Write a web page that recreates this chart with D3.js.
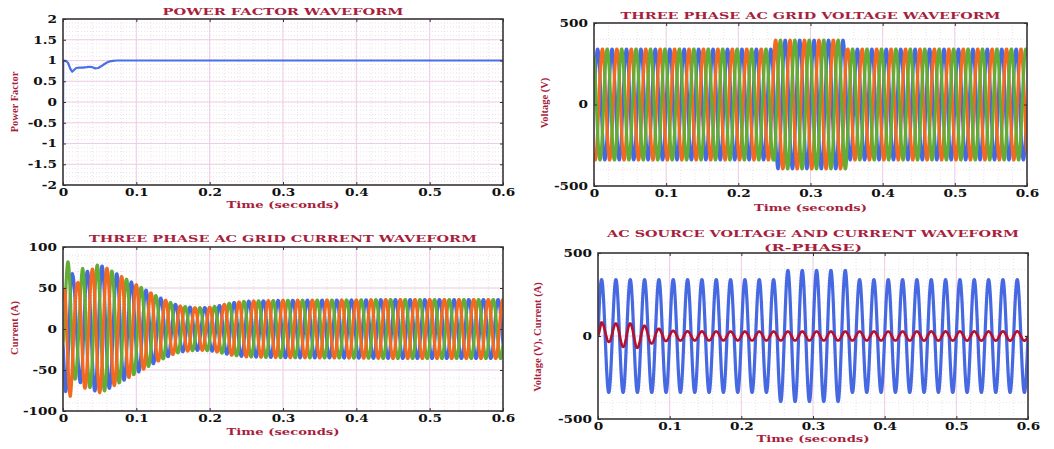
<!DOCTYPE html>
<html><head><meta charset="utf-8">
<script src="https://cdn.jsdelivr.net/npm/d3@7"></script>
<style>
body{margin:0;background:#fff;}
svg{display:block;}
.tk text{font-family:"DejaVu Serif";font-weight:bold;font-size:10.5px;fill:#111;transform-box:fill-box;}
.xa .tick text{transform-origin:center;transform:scaleX(1.3);}
.ya .tick text{transform-origin:right center;transform:scaleX(1.3);}
.tk path.domain{display:none;}
.tk .tick line{stroke:#333;}
</style></head><body>
<svg id="c" width="1054" height="449"></svg>
<script>
// ---------- data ----------
const timeTicks = [0, 0.1, 0.2, 0.3, 0.4, 0.5, 0.6];
const pfTicks = [2, 1.5, 1, 0.5, 0, -0.5, -1, -1.5, -2];
const gridVoltTicks = [500, 0, -500];
const gridCurrTicks = [100, 50, 0, -50, -100];
const srcTicks = [500, 0, -500];
const gridFrequencyHz = 50;

// power factor trace
const pfTime  = [0, 0.0003, 0.004, 0.007, 0.010, 0.0125, 0.015, 0.018, 0.022, 0.027, 0.032, 0.036, 0.040, 0.044, 0.048, 0.052, 0.056, 0.060, 0.064, 0.068, 0.073, 0.6];
const pfValue = [-1, 1, 0.99, 0.94, 0.80, 0.73, 0.77, 0.82, 0.83, 0.83, 0.84, 0.85, 0.84, 0.81, 0.82, 0.86, 0.91, 0.95, 0.98, 0.99, 1, 1];

// three phase grid voltage: amplitude envelope (V)
const gridVoltEnvTime = [0, 0.25, 0.25, 0.35, 0.35, 0.6];
const gridVoltEnvAmp  = [340, 340, 395, 395, 340, 340];
const gridVoltPhaseDeg = [0, -120, 120];        // blue, orange, green

// three phase grid current: amplitude envelope (A)
const gridCurrEnvTime = [0, 0.0033, 0.0067, 0.010, 0.0133, 0.020, 0.0267, 0.034, 0.040, 0.047, 0.053, 0.060, 0.070, 0.080, 0.090, 0.100, 0.110, 0.120, 0.130, 0.140, 0.150, 0.160, 0.170, 0.180, 0.190, 0.200, 0.210, 0.220, 0.230, 0.250, 0.300, 0.400, 0.450, 0.600];
const gridCurrEnvAmp  = [35, 76, 82, 82, 66, 56, 74, 70, 73, 78, 77, 74, 69, 64, 59, 54, 49, 44, 39, 35, 31, 28, 27, 26, 26, 26.5, 28, 30, 32, 34, 35, 35.5, 36, 36];
const gridCurrPhaseDeg = [-150, -30, 90];        // blue, green, orange

// AC source (R-phase) voltage envelope (V)
const srcVoltEnvTime = [0, 0.25, 0.25, 0.35, 0.35, 0.6];
const srcVoltEnvAmp  = [340, 340, 395, 395, 340, 340];

// AC source (R-phase) current: upper / lower envelopes (A)
const srcCurrTime  = [0, 0.0045, 0.014, 0.026, 0.035, 0.044, 0.053, 0.063, 0.074, 0.084, 0.095, 0.105, 0.130, 0.200, 0.600];
const srcCurrUpper = [5, 82, 78, 75, 76, 76, 70, 64, 52, 44, 36, 31, 28, 27, 28];
const srcCurrLower = [0, -20, -34, -50, -66, -70, -74, -60, -46, -38, -30, -28, -27, -27, -28];

// ---------- drawing ----------
const C = {blue:"#4669e2", orange:"#f2691f", green:"#63ad37", red:"#b3122e", title:"#a81e3c"};
const svg = d3.select("#c");
const samples = d3.range(0, 0.60001, 0.0002);
const w = 2 * Math.PI * gridFrequencyHz;

function envScale(tArr, vArr){ return d3.scaleLinear().domain(tArr).range(vArr).clamp(true); }

function panel(cfg){
  const x = d3.scaleLinear().domain([0, 0.6]).range([cfg.x0, cfg.x1]);
  const y = d3.scaleLinear().domain(cfg.yDomain).range([cfg.y1, cfg.y0]);
  const g = svg.append("g");
  // minor grid
  const xm = d3.range(0, 0.6001, 0.02);
  const ym = d3.range(cfg.yDomain[0], cfg.yDomain[1] + 1e-9, cfg.minorStep);
  g.selectAll(null).data(xm).join("line")
    .attr("x1", d => x(d)).attr("x2", d => x(d)).attr("y1", cfg.y0).attr("y2", cfg.y1)
    .attr("stroke", "#e6dbe4").attr("stroke-dasharray", "1,2").attr("stroke-width", 0.8);
  g.selectAll(null).data(ym).join("line")
    .attr("y1", d => y(d)).attr("y2", d => y(d)).attr("x1", cfg.x0).attr("x2", cfg.x1)
    .attr("stroke", "#e6dbe4").attr("stroke-dasharray", "1,2").attr("stroke-width", 0.8);
  // major grid
  g.selectAll(null).data(timeTicks).join("line")
    .attr("x1", d => x(d)).attr("x2", d => x(d)).attr("y1", cfg.y0).attr("y2", cfg.y1)
    .attr("stroke", "#efcde6").attr("stroke-width", 1);
  g.selectAll(null).data(cfg.yTicks).join("line")
    .attr("y1", d => y(d)).attr("y2", d => y(d)).attr("x1", cfg.x0).attr("x2", cfg.x1)
    .attr("stroke", "#efcde6").attr("stroke-width", 1);

  // series
  const clipId = "clip" + cfg.id;
  svg.append("clipPath").attr("id", clipId).append("rect")
    .attr("x", cfg.x0).attr("y", cfg.y0).attr("width", cfg.x1 - cfg.x0).attr("height", cfg.y1 - cfg.y0);
  const sg = g.append("g").attr("clip-path", `url(#${clipId})`);
  cfg.series.forEach(s => {
    sg.append("path").datum(s.data)
      .attr("d", d3.line().x(d => x(d[0])).y(d => y(d[1])))
      .attr("fill", "none").attr("stroke", s.color).attr("stroke-width", s.width)
      .attr("stroke-linejoin", "round");
  });

  // frame
  g.append("rect").attr("x", cfg.x0).attr("y", cfg.y0).attr("width", cfg.x1 - cfg.x0).attr("height", cfg.y1 - cfg.y0)
    .attr("fill", "none").attr("stroke", "#3a3a3a").attr("stroke-width", 1.6);
  // axes
  const fmtX = d => d === 0 ? "0" : d3.format(".1f")(d);
  g.append("g").attr("class", "tk xa").attr("transform", `translate(0,${cfg.y1})`)
    .call(d3.axisBottom(x).tickValues(timeTicks).tickFormat(fmtX).tickSize(-3).tickPadding(4));
  g.append("g").attr("transform", `translate(0,${cfg.y0})`).attr("class", "tk")
    .call(d3.axisTop(x).tickValues(timeTicks).tickFormat("").tickSize(-3));
  g.append("g").attr("class", "tk ya").attr("transform", `translate(${cfg.x0},0)`)
    .call(d3.axisLeft(y).tickValues(cfg.yTicks).tickFormat(cfg.yFmt).tickSize(-3).tickPadding(6));
  g.append("g").attr("class", "tk").attr("transform", `translate(${cfg.x1},0)`)
    .call(d3.axisRight(y).tickValues(cfg.yTicks).tickFormat("").tickSize(-3));

  // titles
  const cx = (cfg.x0 + cfg.x1) / 2;
  cfg.title.forEach(t => {
    g.append("text").attr("x", cx).attr("y", t.y).attr("text-anchor", "middle")
      .attr("textLength", t.len).attr("lengthAdjust", "spacingAndGlyphs")
      .style("font-family", "DejaVu Serif").style("font-weight", "bold").style("font-size", "10px")
      .attr("fill", C.title).text(t.text);
  });
  g.append("text").attr("x", cx).attr("y", cfg.xlabY).attr("text-anchor", "middle")
    .attr("textLength", 113).attr("lengthAdjust", "spacingAndGlyphs")
    .style("font-family", "DejaVu Serif").style("font-weight", "bold").style("font-size", "10px")
    .attr("fill", C.title).text("Time (seconds)");
  g.append("text").attr("transform", `translate(${cfg.ylabX},${cfg.ylabY}) rotate(-90)`)
    .attr("text-anchor", "middle")
    .style("font-family", "Liberation Serif").style("font-weight", "bold").style("font-size", "10.5px")
    .attr("fill", C.title).text(cfg.ylab);
}

// series construction
const pfData = pfTime.map((t, i) => [t, pfValue[i]]);
const gvEnv = envScale(gridVoltEnvTime, gridVoltEnvAmp);
const gcEnv = envScale(gridCurrEnvTime, gridCurrEnvAmp);
const svEnv = envScale(srcVoltEnvTime, srcVoltEnvAmp);
const scUp = envScale(srcCurrTime, srcCurrUpper);
const scLo = envScale(srcCurrTime, srcCurrLower);
const phase = (env, deg) => samples.map(t => [t, env(t) * Math.sin(w * t + deg * Math.PI / 180)]);

const gvColors = [C.blue, C.orange, C.green];
const gvSeries = gridVoltPhaseDeg.map((p, i) => ({data: phase(gvEnv, p), color: gvColors[i], width: 3.2}));
const gcColors = [C.blue, C.green, C.orange];
const gcSeries = gridCurrPhaseDeg.map((p, i) => ({data: phase(gcEnv, p), color: gcColors[i], width: 3.2}));
const srcV = phase(svEnv, 0);
const srcI = samples.map(t => {
  const u = scUp(t), l = scLo(t);
  return [t, (u + l) / 2 + (u - l) / 2 * Math.sin(w * t)];
});

const pfFmt = d => d === 0 ? "0" : (d < 0 ? "-" + Math.abs(d) : String(d));
const vFmt = d => d < 0 ? "-" + Math.abs(d) : String(d);

panel({id: 1, x0: 63, x1: 503, y0: 19, y1: 185, yDomain: [-2, 2], yTicks: pfTicks, minorStep: 0.1, yFmt: pfFmt,
  series: [{data: pfData, color: "#4a6fe6", width: 2.2}],
  title: [{text: "POWER FACTOR WAVEFORM", y: 15, len: 241}], xlabY: 208, ylab: "Power Factor", ylabX: 18, ylabY: 102});
panel({id: 2, x0: 594, x1: 1027, y0: 23, y1: 186, yDomain: [-500, 500], yTicks: gridVoltTicks, minorStep: 100, yFmt: vFmt,
  series: gvSeries,
  title: [{text: "THREE PHASE AC GRID VOLTAGE WAVEFORM", y: 19, len: 380}], xlabY: 211, ylab: "Voltage (V)", ylabX: 548, ylabY: 103});
panel({id: 3, x0: 63, x1: 503, y0: 247, y1: 411, yDomain: [-100, 100], yTicks: gridCurrTicks, minorStep: 10, yFmt: vFmt,
  series: gcSeries,
  title: [{text: "THREE PHASE AC GRID CURRENT WAVEFORM", y: 242, len: 388}], xlabY: 435, ylab: "Current (A)", ylabX: 18, ylabY: 328});
panel({id: 4, x0: 598, x1: 1028, y0: 253, y1: 419, yDomain: [-500, 500], yTicks: srcTicks, minorStep: 100, yFmt: vFmt,
  series: [{data: srcV, color: C.blue, width: 3.2}, {data: srcI, color: C.red, width: 2.6}],
  title: [{text: "AC SOURCE VOLTAGE AND CURRENT WAVEFORM", y: 237, len: 412}, {text: "(R-PHASE)", y: 251, len: 98}],
  xlabY: 442, ylab: "Voltage (V), Current (A)", ylabX: 541, ylabY: 337});
</script>
</body></html>
